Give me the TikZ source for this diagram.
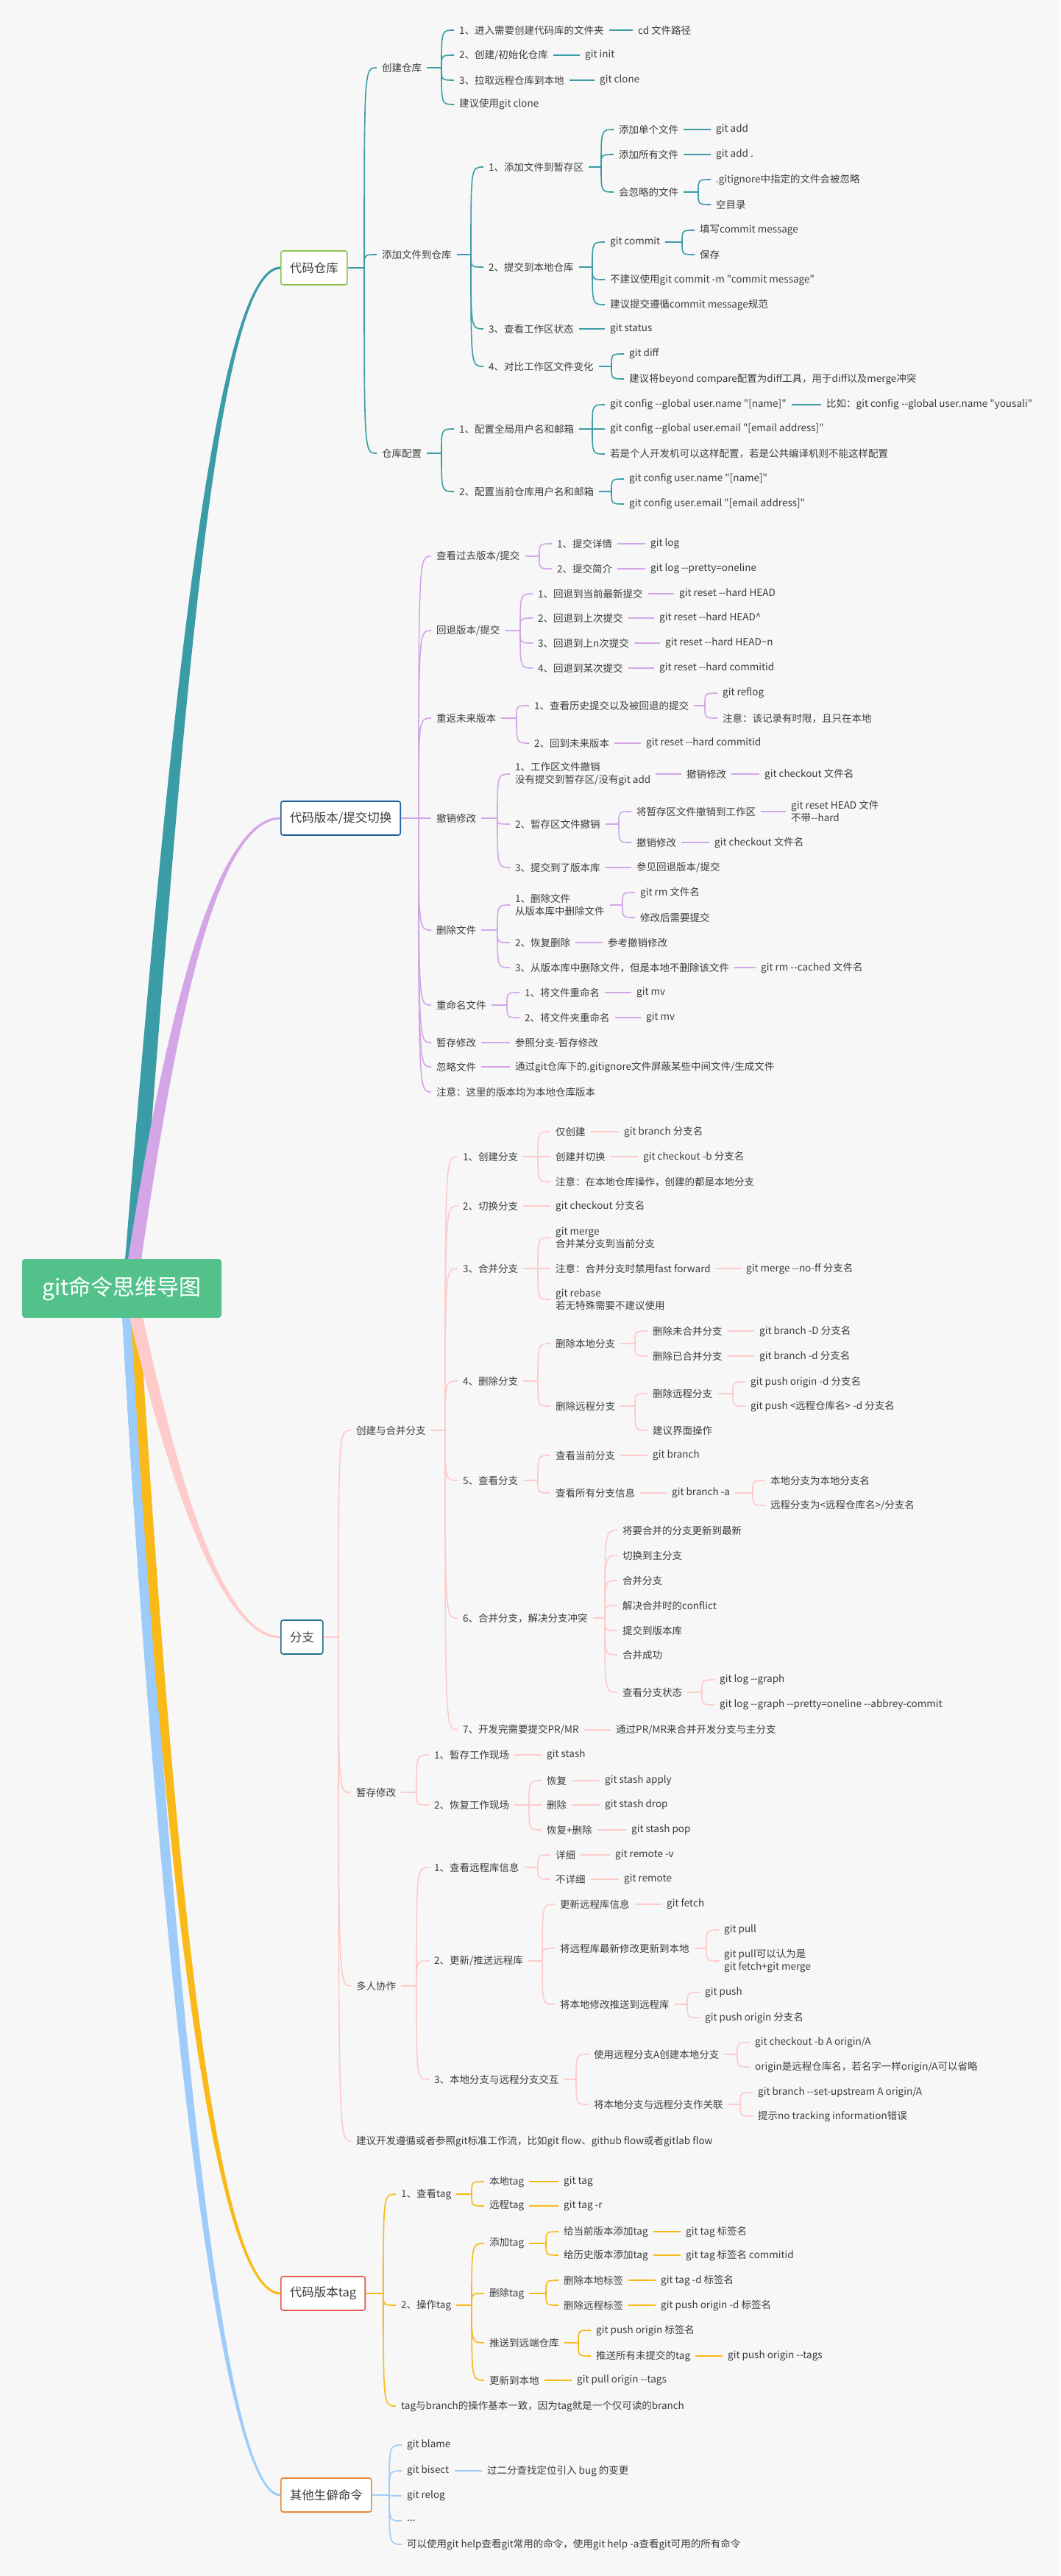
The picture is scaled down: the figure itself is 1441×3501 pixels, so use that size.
\documentclass[tikz,border=0pt]{standalone}
\usepackage{fontspec}
\newfontfamily\cjk{Noto Sans CJK SC}
\usetikzlibrary{calc}
\definecolor{cTeal}{HTML}{3A9CA6}
\definecolor{cLilac}{HTML}{D4A6E8}
\definecolor{cPink}{HTML}{FFCACA}
\definecolor{cGold}{HTML}{F9B919}
\definecolor{cSky}{HTML}{9DCBFA}
\definecolor{cRoot}{HTML}{52C28A}
\definecolor{bgGray}{HTML}{F7F7F7}
\definecolor{ink}{HTML}{3C3C3C}
\definecolor{bGreen}{HTML}{8BC34A}
\definecolor{bBlue}{HTML}{1E5E9E}
\definecolor{bSea}{HTML}{20708C}
\definecolor{bRed}{HTML}{E65A4F}
\definecolor{bOrange}{HTML}{E8893A}
\tikzset{
    t/.style={anchor=west, xshift=-7pt, inner xsep=7pt, inner ysep=1pt, text=ink, align=left,
        font=\cjk\fontsize{13.5}{17}\selectfont},
    box/.style={draw, line width=1.6pt, fill=white, rounded corners=3pt, anchor=west, text=ink,
        minimum height=46pt, inner xsep=12pt, font=\cjk\fontsize{16.5}{18}\selectfont},
    root/.style={fill=cRoot, rounded corners=4pt, text=white, minimum width=271pt, minimum height=80pt,
        font=\cjk\fontsize{30}{32}\selectfont},
    ln/.style={line width=1.6pt},
    stub/.style={line width=2.6pt}
}
% parent -> several children
\newcommand\brk[3]{%
  \foreach \c [count=\i] in {#3}{%
    \ifnum\i=1
      \coordinate (J) at ([xshift=-17pt]#2.east -| \c.west);
      \draw[#1,stub] (#2.east) -- (J);
    \fi
    \draw[#1,ln] (J) .. controls (J |- \c.west) and (J |- \c.west) .. (\c.west);
  }}
% parent -> one child
\newcommand\lnk[3]{\draw[#1,ln] (#2.east) -- (#3.west);}
\begin{document}
\begin{tikzpicture}[x=1pt, y=-1pt]
    \fill[bgGray] (0,0) rectangle (1441,3501);
    \useasboundingbox (0,0) rectangle (1441,3501);

    % trunks
    \fill[cTeal] (170,1712) .. controls (228,1000) and (290,361) .. (381,362.5) -- (381,365.5) .. controls (292,368) and (246,1000) .. (192,1712) -- cycle;
    \fill[cLilac] (174,1712) .. controls (222,1400) and (290,1110.5) .. (381,1110.5) -- (381,1113.5) .. controls (292,1115) and (238,1400) .. (192,1712) -- cycle;
    \fill[cSky] (166,1790) .. controls (205,2500) and (288,3392.5) .. (381,3392.5) -- (381,3389.5) .. controls (292,3388) and (222,2500) .. (182,1790) -- cycle;
    \fill[cGold] (178,1790) .. controls (212,2400) and (278,3118.5) .. (381,3118.5) -- (381,3115.5) .. controls (282,3114) and (228,2400) .. (190,1790) -- cycle;
    \fill[cPink] (176,1790) .. controls (214,1950) and (290,2226.5) .. (381,2226.5) -- (381,2223.5) .. controls (292,2222) and (230,1950) .. (194,1790) -- cycle;

    \node[root] (R) at (165.5,1751) {git命令思维导图};

    % 代码仓库
    \node[box, draw=bGreen] (A) at (381,364) {代码仓库};
    \node[t] (A1) at (519,92) {创建仓库};
    \node[t] (A2) at (519,346) {添加文件到仓库};
    \node[t] (A3) at (519,616) {仓库配置};
    \node[t] (A11) at (624,41) {1、进入需要创建代码库的文件夹};
    \node[t] (A12) at (624,75) {2、创建/初始化仓库};
    \node[t] (A13) at (624,109) {3、拉取远程仓库到本地};
    \node[t] (A14) at (624,142) {建议使用git clone};
    \node[t] (A111) at (867,41) {cd 文件路径};
    \node[t] (A121) at (795,75) {git init};
    \node[t] (A131) at (815,109) {git clone};
    \node[t] (A21) at (664,227) {1、添加文件到暂存区};
    \node[t] (A22) at (664,363) {2、提交到本地仓库};
    \node[t] (A23) at (664,447) {3、查看工作区状态};
    \node[t] (A24) at (664,498) {4、对比工作区文件变化};
    \node[t] (A211) at (841,176) {添加单个文件};
    \node[t] (A212) at (841,210) {添加所有文件};
    \node[t] (A213) at (841,261) {会忽略的文件};
    \node[t] (A2111) at (973,176) {git add};
    \node[t] (A2121) at (973,210) {git add .};
    \node[t] (A2131) at (973,244) {.gitignore中指定的文件会被忽略};
    \node[t] (A2132) at (973,278) {空目录};
    \node[t] (A221) at (829,329) {git commit};
    \node[t] (A222) at (829,380) {不建议使用git commit -m "commit message"};
    \node[t] (A223) at (829,414) {建议提交遵循commit message规范};
    \node[t] (A2211) at (951,313) {填写commit message};
    \node[t] (A2212) at (951,346) {保存};
    \node[t] (A231) at (829,447) {git status};
    \node[t] (A241) at (855,481) {git diff};
    \node[t] (A242) at (855,515) {建议将beyond compare配置为diff工具，用于diff以及merge冲突};
    \node[t] (A31) at (624,583) {1、配置全局用户名和邮箱};
    \node[t] (A32) at (624,668) {2、配置当前仓库用户名和邮箱};
    \node[t] (A311) at (829,550) {git config --global user.name "[name]"};
    \node[t] (A312) at (829,583) {git config --global user.email "[email address]"};
    \node[t] (A313) at (829,617) {若是个人开发机可以这样配置，若是公共编译机则不能这样配置};
    \node[t] (A3111) at (1123,550) {比如：git config --global user.name "yousali"};
    \node[t] (A321) at (855,651) {git config user.name "[name]"};
    \node[t] (A322) at (855,685) {git config user.email "[email address]"};

    \brk{cTeal}{A}{A1,A2,A3}
    \brk{cTeal}{A1}{A11,A12,A13,A14}
    \lnk{cTeal}{A11}{A111}
    \lnk{cTeal}{A12}{A121}
    \lnk{cTeal}{A13}{A131}
    \brk{cTeal}{A2}{A21,A22,A23,A24}
    \brk{cTeal}{A21}{A211,A212,A213}
    \lnk{cTeal}{A211}{A2111}
    \lnk{cTeal}{A212}{A2121}
    \brk{cTeal}{A213}{A2131,A2132}
    \brk{cTeal}{A22}{A221,A222,A223}
    \brk{cTeal}{A221}{A2211,A2212}
    \lnk{cTeal}{A23}{A231}
    \brk{cTeal}{A24}{A241,A242}
    \brk{cTeal}{A3}{A31,A32}
    \brk{cTeal}{A31}{A311,A312,A313}
    \lnk{cTeal}{A311}{A3111}
    \brk{cTeal}{A32}{A321,A322}

    % 代码版本/提交切换
    \node[box, draw=bBlue] (B) at (381,1112) {代码版本/提交切换};
    \node[t] (B1) at (593,756) {查看过去版本/提交};
    \node[t] (B2) at (593,857) {回退版本/提交};
    \node[t] (B3) at (593,976) {重返未来版本};
    \node[t] (B4) at (593,1112) {撤销修改};
    \node[t] (B5) at (593,1264) {删除文件};
    \node[t] (B6) at (593,1366) {重命名文件};
    \node[t] (B7) at (593,1417) {暂存修改};
    \node[t] (B8) at (593,1450) {忽略文件};
    \node[t] (B9) at (593,1484) {注意：这里的版本均为本地仓库版本};
    \node[t] (B11) at (757,739) {1、提交详情};
    \node[t] (B12) at (757,773) {2、提交简介};
    \node[t] (B111) at (884,739) {git log};
    \node[t] (B121) at (884,773) {git log --pretty=oneline};
    \node[t] (B21) at (731,807) {1、回退到当前最新提交};
    \node[t] (B22) at (731,840) {2、回退到上次提交};
    \node[t] (B23) at (731,874) {3、回退到上n次提交};
    \node[t] (B24) at (731,908) {4、回退到某次提交};
    \node[t] (B211) at (923,807) {git reset --hard HEAD};
    \node[t] (B221) at (896,840) {git reset --hard HEAD\textasciicircum};
    \node[t] (B231) at (904,874) {git reset --hard HEAD\textasciitilde n};
    \node[t] (B241) at (896,908) {git reset --hard commitid};
    \node[t] (B31) at (726,959) {1、查看历史提交以及被回退的提交};
    \node[t] (B32) at (726,1010) {2、回到未来版本};
    \node[t] (B311) at (982,942) {git reflog};
    \node[t] (B312) at (982,976) {注意：该记录有时限，且只在本地};
    \node[t] (B321) at (878,1010) {git reset --hard commitid};
    \node[t] (B41) at (700,1052) {1、工作区文件撤销\\没有提交到暂存区/没有git add};
    \node[t] (B411) at (933,1052) {撤销修改};
    \node[t] (B4111) at (1039,1052) {git checkout 文件名};
    \node[t] (B42) at (700,1120) {2、暂存区文件撤销};
    \node[t] (B421) at (865,1103) {将暂存区文件撤销到工作区};
    \node[t] (B4211) at (1075,1103) {git reset HEAD 文件\\不带--hard};
    \node[t] (B422) at (865,1145) {撤销修改};
    \node[t] (B4221) at (971,1145) {git checkout 文件名};
    \node[t] (B43) at (700,1179) {3、提交到了版本库};
    \node[t] (B431) at (865,1179) {参见回退版本/提交};
    \node[t] (B51) at (700,1230) {1、删除文件\\从版本库中删除文件};
    \node[t] (B511) at (870,1213) {git rm 文件名};
    \node[t] (B512) at (870,1247) {修改后需要提交};
    \node[t] (B52) at (700,1281) {2、恢复删除};
    \node[t] (B521) at (826,1281) {参考撤销修改};
    \node[t] (B53) at (700,1315) {3、从版本库中删除文件，但是本地不删除该文件};
    \node[t] (B531) at (1034,1315) {git rm --cached 文件名};
    \node[t] (B61) at (713,1349) {1、将文件重命名};
    \node[t] (B611) at (865,1349) {git mv};
    \node[t] (B62) at (713,1383) {2、将文件夹重命名};
    \node[t] (B621) at (878,1383) {git mv};
    \node[t] (B71) at (700,1417) {参照分支-暂存修改};
    \node[t] (B81) at (700,1450) {通过git仓库下的.gitignore文件屏蔽某些中间文件/生成文件};

    \brk{cLilac}{B}{B1,B2,B3,B4,B5,B6,B7,B8,B9}
    \brk{cLilac}{B1}{B11,B12}
    \lnk{cLilac}{B11}{B111}
    \lnk{cLilac}{B12}{B121}
    \brk{cLilac}{B2}{B21,B22,B23,B24}
    \lnk{cLilac}{B21}{B211}
    \lnk{cLilac}{B22}{B221}
    \lnk{cLilac}{B23}{B231}
    \lnk{cLilac}{B24}{B241}
    \brk{cLilac}{B3}{B31,B32}
    \brk{cLilac}{B31}{B311,B312}
    \lnk{cLilac}{B32}{B321}
    \brk{cLilac}{B4}{B41,B42,B43}
    \lnk{cLilac}{B41}{B411}
    \lnk{cLilac}{B411}{B4111}
    \brk{cLilac}{B42}{B421,B422}
    \lnk{cLilac}{B421}{B4211}
    \lnk{cLilac}{B422}{B4221}
    \lnk{cLilac}{B43}{B431}
    \brk{cLilac}{B5}{B51,B52,B53}
    \brk{cLilac}{B51}{B511,B512}
    \lnk{cLilac}{B52}{B521}
    \lnk{cLilac}{B53}{B531}
    \brk{cLilac}{B6}{B61,B62}
    \lnk{cLilac}{B61}{B611}
    \lnk{cLilac}{B62}{B621}
    \lnk{cLilac}{B7}{B71}
    \lnk{cLilac}{B8}{B81}

    % 分支
    \node[box, draw=bSea] (C) at (381,2225) {分支};
    \node[t] (C1) at (484,1944) {创建与合并分支};
    \node[t] (C2) at (484,2436) {暂存修改};
    \node[t] (C3) at (484,2699) {多人协作};
    \node[t] (C4) at (484,2910) {建议开发遵循或者参照git标准工作流，比如git flow、github flow或者gitlab flow};
    \node[t] (C11) at (629,1572) {1、创建分支};
    \node[t] (C12) at (629,1639) {2、切换分支};
    \node[t] (C13) at (629,1724) {3、合并分支};
    \node[t] (C14) at (629,1877) {4、删除分支};
    \node[t] (C15) at (629,2012) {5、查看分支};
    \node[t] (C16) at (629,2199) {6、合并分支，解决分支冲突};
    \node[t] (C17) at (629,2351) {7、开发完需要提交PR/MR};
    \node[t] (C111) at (755,1538) {仅创建};
    \node[t] (C1111) at (848,1538) {git branch 分支名};
    \node[t] (C112) at (755,1572) {创建并切换};
    \node[t] (C1121) at (874,1572) {git checkout -b 分支名};
    \node[t] (C113) at (755,1606) {注意：在本地仓库操作，创建的都是本地分支};
    \node[t] (C121) at (755,1639) {git checkout 分支名};
    \node[t] (C131) at (755,1682) {git merge\\合并某分支到当前分支};
    \node[t] (C132) at (755,1724) {注意：合并分支时禁用fast forward};
    \node[t] (C1321) at (1014,1724) {git merge --no-ff 分支名};
    \node[t] (C133) at (755,1766) {git rebase\\若无特殊需要不建议使用};
    \node[t] (C141) at (755,1826) {删除本地分支};
    \node[t] (C1411) at (887,1809) {删除未合并分支};
    \node[t] (C14111) at (1032,1809) {git branch -D 分支名};
    \node[t] (C1412) at (887,1843) {删除已合并分支};
    \node[t] (C14121) at (1032,1843) {git branch -d 分支名};
    \node[t] (C142) at (755,1911) {删除远程分支};
    \node[t] (C1421) at (887,1894) {删除远程分支};
    \node[t] (C14211) at (1020,1878) {git push origin -d 分支名};
    \node[t] (C14212) at (1020,1911) {git push <远程仓库名> -d 分支名};
    \node[t] (C1422) at (887,1944) {建议界面操作};
    \node[t] (C151) at (755,1978) {查看当前分支};
    \node[t] (C1511) at (887,1978) {git branch};
    \node[t] (C152) at (755,2029) {查看所有分支信息};
    \node[t] (C1521) at (913,2029) {git branch -a};
    \node[t] (C15211) at (1047,2012) {本地分支为本地分支名};
    \node[t] (C15212) at (1047,2046) {远程分支为<远程仓库名>/分支名};
    \node[t] (C161) at (846,2080) {将要合并的分支更新到最新};
    \node[t] (C162) at (846,2114) {切换到主分支};
    \node[t] (C163) at (846,2148) {合并分支};
    \node[t] (C164) at (846,2182) {解决合并时的conflict};
    \node[t] (C165) at (846,2216) {提交到版本库};
    \node[t] (C166) at (846,2249) {合并成功};
    \node[t] (C167) at (846,2300) {查看分支状态};
    \node[t] (C1671) at (978,2283) {git log --graph};
    \node[t] (C1672) at (978,2317) {git log --graph --pretty=oneline --abbrey-commit};
    \node[t] (C171) at (837,2351) {通过PR/MR来合并开发分支与主分支};
    \node[t] (C21) at (590,2385) {1、暂存工作现场};
    \node[t] (C211) at (743,2385) {git stash};
    \node[t] (C22) at (590,2453) {2、恢复工作现场};
    \node[t] (C221) at (743,2420) {恢复};
    \node[t] (C2211) at (822,2420) {git stash apply};
    \node[t] (C222) at (743,2453) {删除};
    \node[t] (C2221) at (822,2453) {git stash drop};
    \node[t] (C223) at (743,2487) {恢复+删除};
    \node[t] (C2231) at (858,2487) {git stash pop};
    \node[t] (C31) at (590,2538) {1、查看远程库信息};
    \node[t] (C311) at (755,2521) {详细};
    \node[t] (C3111) at (836,2521) {git remote -v};
    \node[t] (C312) at (755,2554) {不详细};
    \node[t] (C3121) at (848,2554) {git remote};
    \node[t] (C32) at (590,2665) {2、更新/推送远程库};
    \node[t] (C321) at (761,2588) {更新远程库信息};
    \node[t] (C3211) at (906,2588) {git fetch};
    \node[t] (C322) at (761,2648) {将远程库最新修改更新到本地};
    \node[t] (C3221) at (984,2623) {git pull};
    \node[t] (C3222) at (984,2665) {git pull可以认为是\\git fetch+git merge};
    \node[t] (C323) at (761,2724) {将本地修改推送到远程库};
    \node[t] (C3231) at (958,2708) {git push};
    \node[t] (C3232) at (958,2742) {git push origin 分支名};
    \node[t] (C33) at (590,2826) {3、本地分支与远程分支交互};
    \node[t] (C331) at (807,2792) {使用远程分支A创建本地分支};
    \node[t] (C3311) at (1026,2776) {git checkout -b A origin/A};
    \node[t] (C3312) at (1026,2809) {origin是远程仓库名，若名字一样origin/A可以省略};
    \node[t] (C332) at (807,2860) {将本地分支与远程分支作关联};
    \node[t] (C3321) at (1030,2844) {git branch --set-upstream A origin/A};
    \node[t] (C3322) at (1030,2876) {提示no tracking information错误};

    \brk{cPink}{C}{C1,C2,C3,C4}
    \brk{cPink}{C1}{C11,C12,C13,C14,C15,C16,C17}
    \brk{cPink}{C11}{C111,C112,C113}
    \lnk{cPink}{C111}{C1111}
    \lnk{cPink}{C112}{C1121}
    \lnk{cPink}{C12}{C121}
    \brk{cPink}{C13}{C131,C132,C133}
    \lnk{cPink}{C132}{C1321}
    \brk{cPink}{C14}{C141,C142}
    \brk{cPink}{C141}{C1411,C1412}
    \lnk{cPink}{C1411}{C14111}
    \lnk{cPink}{C1412}{C14121}
    \brk{cPink}{C142}{C1421,C1422}
    \brk{cPink}{C1421}{C14211,C14212}
    \brk{cPink}{C15}{C151,C152}
    \lnk{cPink}{C151}{C1511}
    \lnk{cPink}{C152}{C1521}
    \brk{cPink}{C1521}{C15211,C15212}
    \brk{cPink}{C16}{C161,C162,C163,C164,C165,C166,C167}
    \brk{cPink}{C167}{C1671,C1672}
    \lnk{cPink}{C17}{C171}
    \brk{cPink}{C2}{C21,C22}
    \lnk{cPink}{C21}{C211}
    \brk{cPink}{C22}{C221,C222,C223}
    \lnk{cPink}{C221}{C2211}
    \lnk{cPink}{C222}{C2221}
    \lnk{cPink}{C223}{C2231}
    \brk{cPink}{C3}{C31,C32,C33}
    \brk{cPink}{C31}{C311,C312}
    \lnk{cPink}{C311}{C3111}
    \lnk{cPink}{C312}{C3121}
    \brk{cPink}{C32}{C321,C322,C323}
    \lnk{cPink}{C321}{C3211}
    \brk{cPink}{C322}{C3221,C3222}
    \brk{cPink}{C323}{C3231,C3232}
    \brk{cPink}{C33}{C331,C332}
    \brk{cPink}{C331}{C3311,C3312}
    \brk{cPink}{C332}{C3321,C3322}

    % 代码版本tag
    \node[box, draw=bRed] (D) at (381,3117) {代码版本tag};
    \node[t] (D1) at (545,2982) {1、查看tag};
    \node[t] (D2) at (545,3133) {2、操作tag};
    \node[t] (D3) at (545,3270) {tag与branch的操作基本一致，因为tag就是一个仅可读的branch};
    \node[t] (D11) at (665,2965) {本地tag};
    \node[t] (D111) at (766,2965) {git tag};
    \node[t] (D12) at (665,2998) {远程tag};
    \node[t] (D121) at (766,2998) {git tag -r};
    \node[t] (D21) at (665,3049) {添加tag};
    \node[t] (D211) at (766,3033) {给当前版本添加tag};
    \node[t] (D2111) at (932,3033) {git tag 标签名};
    \node[t] (D212) at (766,3065) {给历史版本添加tag};
    \node[t] (D2121) at (932,3065) {git tag 标签名 commitid};
    \node[t] (D22) at (665,3117) {删除tag};
    \node[t] (D221) at (766,3099) {删除本地标签};
    \node[t] (D2211) at (898,3099) {git tag -d 标签名};
    \node[t] (D222) at (766,3133) {删除远程标签};
    \node[t] (D2221) at (898,3133) {git push origin -d 标签名};
    \node[t] (D23) at (665,3184) {推送到远端仓库};
    \node[t] (D231) at (810,3167) {git push origin 标签名};
    \node[t] (D232) at (810,3202) {推送所有未提交的tag};
    \node[t] (D2321) at (989,3202) {git push origin --tags};
    \node[t] (D24) at (665,3235) {更新到本地};
    \node[t] (D241) at (784,3235) {git pull origin --tags};

    \brk{cGold}{D}{D1,D2,D3}
    \brk{cGold}{D1}{D11,D12}
    \lnk{cGold}{D11}{D111}
    \lnk{cGold}{D12}{D121}
    \brk{cGold}{D2}{D21,D22,D23,D24}
    \brk{cGold}{D21}{D211,D212}
    \lnk{cGold}{D211}{D2111}
    \lnk{cGold}{D212}{D2121}
    \brk{cGold}{D22}{D221,D222}
    \lnk{cGold}{D221}{D2211}
    \lnk{cGold}{D222}{D2221}
    \brk{cGold}{D23}{D231,D232}
    \lnk{cGold}{D232}{D2321}
    \lnk{cGold}{D24}{D241}

    % 其他生僻命令
    \node[box, draw=bOrange] (E) at (381,3391) {其他生僻命令};
    \node[t] (E1) at (553,3323) {git blame};
    \node[t] (E2) at (553,3358) {git bisect};
    \node[t] (E21) at (662,3358) {过二分查找定位引入 bug 的变更};
    \node[t] (E3) at (553,3392) {git relog};
    \node[t] (E4) at (553,3426) {...};
    \node[t] (E5) at (553,3458) {可以使用git help查看git常用的命令，使用git help -a查看git可用的所有命令};

    \brk{cSky}{E}{E1,E2,E3,E4,E5}
    \lnk{cSky}{E2}{E21}
\end{tikzpicture}
\end{document}
